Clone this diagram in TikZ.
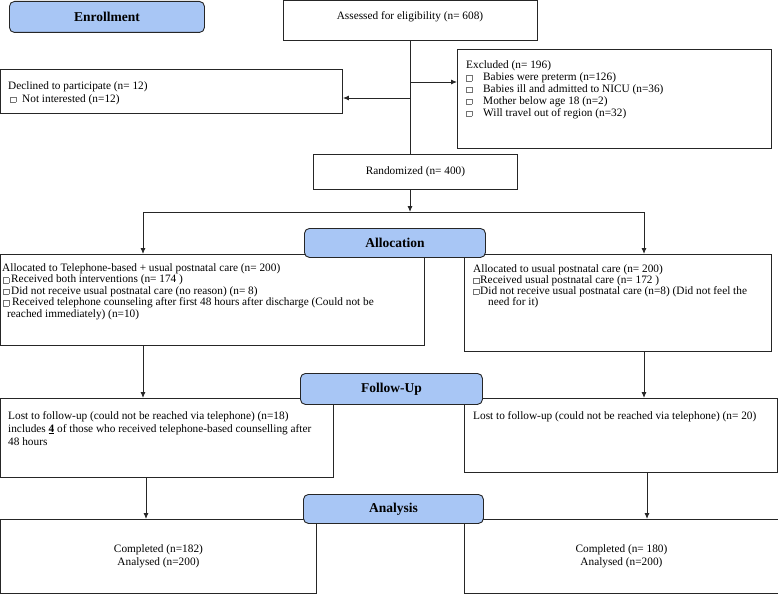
\documentclass[tikz,border=0pt]{standalone}
\usepackage{fontspec}
\setmainfont{Liberation Serif}
\usetikzlibrary{arrows.meta}

\definecolor{stageblue}{HTML}{A8C6F5}
\definecolor{linegray}{HTML}{262626}
\newcommand{\sqbul}{\textcolor{black!55}{\fboxsep=0pt\fboxrule=0.4pt\fbox{\rule{0pt}{5pt}\hspace{5pt}}}}

\tikzset{
  box/.style={draw=linegray, line width=0.9pt, anchor=north west, inner sep=0pt, align=center,
    font=\fontsize{11.3}{12.5}\selectfont},
  stage/.style={draw=linegray, line width=0.9pt, fill=stageblue, rounded corners=5pt,
    anchor=north west, inner sep=0pt, font=\fontsize{13.5}{15}\selectfont\bfseries},
  txt/.style={anchor=base west, inner sep=0pt, align=left, font=\fontsize{11.3}{11.4}\selectfont},
  flow/.style={draw=linegray, line width=0.9pt, -{Latex[length=6pt,width=5pt]}},
  link/.style={draw=linegray, line width=0.9pt}
}

\begin{document}
\begin{tikzpicture}[x=1pt, y=-1pt]
        \useasboundingbox (0,0) rectangle (778,594);
        % boxes (text nodes sit on the baseline of their last line)
        \node[box, minimum width=254, minimum height=40] (assess) at (283,0) {};
        \node[txt, anchor=base] (assessT) at (410,20) {Assessed for eligibility (n= 608)};
        \node[box, minimum width=342, minimum height=44] (decl) at (0,69) {};
        \node[txt, font=\fontsize{11.3}{13}\selectfont] (declT) at (8,102) {Declined to participate (n= 12)\\
            \hspace*{2pt}\makebox[12pt][l]{\sqbul}Not interested (n=12)};
        \node[box, minimum width=314, minimum height=99] (excl) at (457,49) {};
        \node[txt, font=\fontsize{11.3}{11.8}\selectfont] (exclT) at (466,116) {Excluded (n= 196)\\
            \makebox[17pt][l]{\sqbul}Babies were preterm (n=126)\\
            \makebox[17pt][l]{\sqbul}Babies ill and admitted to NICU (n=36)\\
            \makebox[17pt][l]{\sqbul}Mother below age 18 (n=2)\\
            \makebox[17pt][l]{\sqbul}Will travel out of region (n=32)};
        \node[box, minimum width=204, minimum height=35] (random) at (313,154) {Randomized (n= 400)};
        \node[box, minimum width=424, minimum height=91] (alloc1) at (0,254) {};
        \node[txt] (alloc1T) at (2,317) {Allocated to Telephone-based + usual postnatal care (n= 200)\\
            \hspace*{1pt}\makebox[8pt][l]{\sqbul}Received both interventions (n= 174 )\\
            \hspace*{1pt}\makebox[8pt][l]{\sqbul}Did not receive usual postnatal care (no reason) (n= 8)\\
            \hspace*{1pt}\makebox[9pt][l]{\sqbul}Received telephone counseling after first 48 hours after discharge (Could not be\\
            \hspace*{5pt}reached immediately) (n=10)};
        \node[box, minimum width=307, minimum height=97] (alloc2) at (464,254) {};
        \node[txt, font=\fontsize{11.3}{10.8}\selectfont] (alloc2T) at (473,305) {Allocated to usual postnatal care (n= 200)\\
            \makebox[7pt][l]{\sqbul}Received usual postnatal care (n= 172 )\\
            \makebox[7pt][l]{\sqbul}Did not receive usual postnatal care (n=8) (Did not feel the\\
            \hspace*{15pt}need for it)};
        \node[box, minimum width=333, minimum height=79] (lost1) at (0,398) {};
        \node[txt, font=\fontsize{11.3}{13}\selectfont] (lost1T) at (8,445) {Lost to follow-up (could not be reached via telephone) (n=18)\\
            includes \underline{\textbf{4}} of those who received telephone-based counselling after\\
            48 hours};
        \node[box, minimum width=313, minimum height=74] (lost2) at (464,398) {};
        \node[txt] (lost2T) at (473,419) {Lost to follow-up (could not be reached via telephone) (n= 20)};
        \node[box, minimum width=316, minimum height=74] (comp1) at (0,519) {Completed (n=182)\\Analysed (n=200)};
        \node[box, minimum width=314, minimum height=74] (comp2) at (464,519) {Completed (n= 180)\\Analysed (n=200)};

        % connectors
        \coordinate (jexcl) at (410,82);
        \coordinate (jdecl) at (410,98);
        \coordinate (split) at (410,212);
        \coordinate (splitL) at (143,212);
        \coordinate (splitR) at (644,212);
        \coordinate (colL) at (146,0);
        \coordinate (colR) at (647,0);
        \draw[link] (assess.south) -- (assess.south |- random.north);
        \draw[flow] (jexcl) -- (jexcl -| excl.west);
        \draw[flow] (jdecl) -- (jdecl -| decl.east);
        \draw[flow] (random.south -| split) -- (split);
        \draw[link] (splitL) -- (splitR);
        \draw[flow] (splitL) -- (splitL |- alloc1.north);
        \draw[flow] (splitR) -- (splitR |- alloc2.north);
        \draw[flow] (alloc1.south -| splitL) -- (splitL |- lost1.north);
        \draw[flow] (alloc2.south -| splitR) -- (splitR |- lost2.north);
        \draw[flow] (lost1.south -| colL) -- (colL |- comp1.north);
        \draw[flow] (lost2.south -| colR) -- (colR |- comp2.north);

        % stage labels
        \node[stage, minimum width=195, minimum height=31] (enroll) at (9,1) {Enrollment};
        \node[stage, minimum width=181, minimum height=29] (allocation) at (304,228) {Allocation};
        \node[stage, minimum width=182, minimum height=31] (followup) at (300,373) {Follow-Up};
        \node[stage, minimum width=180, minimum height=29] (analysis) at (303,494) {Analysis};
\end{tikzpicture}
\end{document}
